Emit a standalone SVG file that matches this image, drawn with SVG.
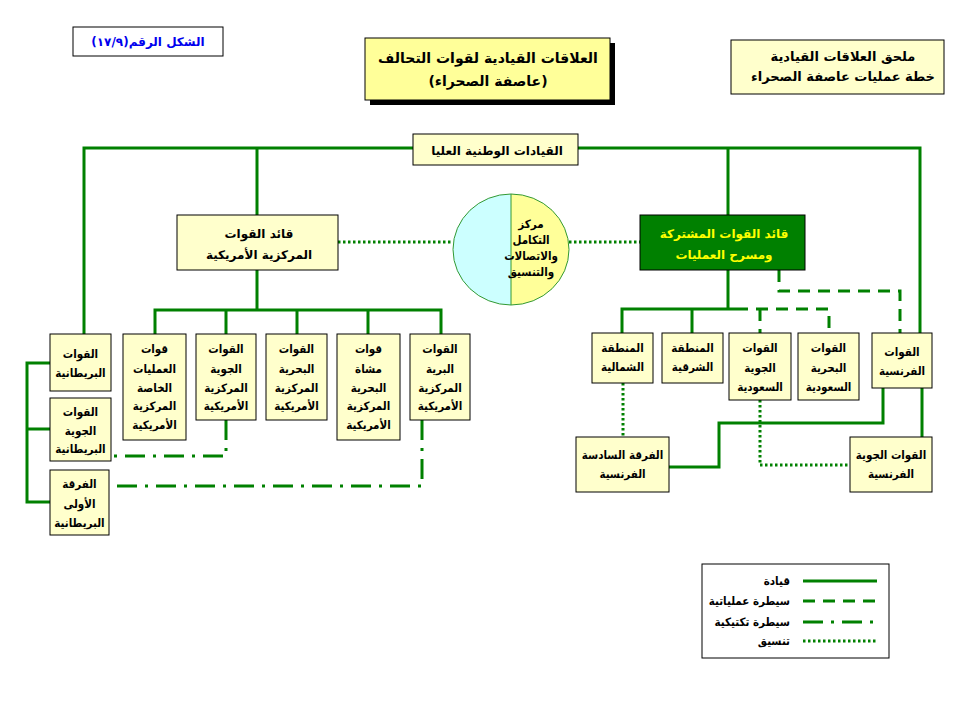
<svg xmlns="http://www.w3.org/2000/svg" width="959" height="719" viewBox="0 0 959 719">
<style>
text{font-family:"DejaVu Sans","Noto Sans",sans-serif;font-weight:bold;font-size:12px;text-anchor:middle;fill:#000}
text.s{font-family:"DejaVu Sans Condensed","DejaVu Sans",sans-serif;font-size:11.5px}
.box{fill:#FFFFCC;stroke:#000;stroke-width:1}
.cmd{fill:none;stroke:#008000;stroke-width:3}
.op{fill:none;stroke:#008000;stroke-width:3;stroke-dasharray:12 8}
.tac{fill:none;stroke:#008000;stroke-width:3;stroke-dasharray:20 8 3 8}
.crd{fill:none;stroke:#008000;stroke-width:3;stroke-dasharray:2.5 2.5}
</style>
<rect width="959" height="719" fill="#fff"/>
<g id="connectors">
<path class="cmd" d="M84,334 V148 H920 V333"/>
<path class="cmd" d="M257,148 V215 M728,148 V215"/>
<path class="cmd" d="M257,270 V310 M155,334 V310 H441 V334 M226,310 V334 M297,310 V334 M368,310 V334"/>
<path class="cmd" d="M50,363 H27 V502 H50 M27,429 H50"/>
<path class="cmd" d="M728,270 V309 M622,333 V309 H736 M692,309 V333"/>
<path class="cmd" d="M883,388 V423 H719 V467 H669 M922,388 V437"/>
<path class="op" d="M736,309 H829 V333 M760,309 V333"/>
<path class="op" d="M779,270 V291 H900 V333"/>
<path class="tac" d="M226,420 V456 H111"/>
<path class="tac" d="M422,420 V486 H110"/>
<path class="crd" d="M338,242 H453 M569,242 H640"/>
<path class="crd" d="M623,383 V437"/>
<path class="crd" d="M760,400 V465 H850"/>
</g>
<g id="fig-number">
<rect x="73" y="27" width="150" height="29" fill="#fff" stroke="#000"/>
<text x="148" y="46" direction="rtl" style="fill:#0000EE;font-size:12px">الشكل الرقم(١٧/٩)</text>
</g>
<g id="title">
<rect x="370" y="43" width="245" height="62" fill="#000"/>
<rect x="365" y="38" width="245" height="62" fill="#FFFF99" stroke="#000"/>
<text x="488" y="63" direction="rtl" style="font-size:14px">العلاقات القيادية لقوات التحالف</text>
<text x="488" y="86" direction="rtl" style="font-size:14px">(عاصفة الصحراء)</text>
</g>
<g id="annex">
<rect x="731" y="40" width="213" height="54" class="box"/>
<text x="843" y="61" direction="rtl" style="font-size:13px">ملحق العلاقات القيادية</text>
<text x="843" y="81" direction="rtl" style="font-size:13px">خطة عمليات عاصفة الصحراء</text>
</g>
<g id="national-command">
<rect x="413" y="134" width="165" height="31" class="box"/>
<text x="497" y="155" direction="rtl">القيادات الوطنية العليا</text>
</g>
<g id="centcom">
<rect x="177" y="215" width="161" height="55" class="box"/>
<text x="259" y="238" direction="rtl">قائد القوات</text>
<text x="259" y="259" direction="rtl">المركزية الأمريكية</text>
</g>
<g id="coordination-center">
<path d="M511,194 A58,55.5 0 0 0 511,305 Z" fill="#CCFFFF"/>
<path d="M511,194 A58,55.5 0 0 1 511,305 Z" fill="#FFFF99"/>
<ellipse cx="511" cy="249.5" rx="58" ry="55.5" fill="none" stroke="#339933" stroke-width="1"/>
<line x1="511" y1="194" x2="511" y2="305" stroke="#339933" stroke-width="1"/>
<text class="s" x="531" y="228" direction="rtl">مركز</text>
<text class="s" x="531" y="244" direction="rtl">التكامل</text>
<text class="s" x="531" y="260" direction="rtl">والاتصالات</text>
<text class="s" x="531" y="276" direction="rtl">والتنسيق</text>
</g>
<g id="joint-commander">
<rect x="640" y="215" width="165" height="55" fill="#008000" stroke="#000"/>
<text x="724" y="238" direction="rtl" style="fill:#FFFF00">قائد القوات المشتركة</text>
<text x="724" y="259" direction="rtl" style="fill:#FFFF00">ومسرح العمليات</text>
</g>
<g id="us-special-ops">
<rect x="123" y="334" width="63" height="106" class="box"/>
<text class="s" x="154.5" y="353" direction="rtl">قوات</text>
<text class="s" x="154.5" y="373" direction="rtl">العمليات</text>
<text class="s" x="154.5" y="392" direction="rtl">الخاصة</text>
<text class="s" x="154.5" y="410" direction="rtl">المركزية</text>
<text class="s" x="154.5" y="429" direction="rtl">الأمريكية</text>
</g>
<g id="us-air">
<rect x="196" y="334" width="60" height="86" class="box"/>
<text class="s" x="226" y="353" direction="rtl">القوات</text>
<text class="s" x="226" y="373" direction="rtl">الجوية</text>
<text class="s" x="226" y="392" direction="rtl">المركزية</text>
<text class="s" x="226" y="410" direction="rtl">الأمريكية</text>
</g>
<g id="us-navy">
<rect x="266" y="334" width="61" height="86" class="box"/>
<text class="s" x="296.5" y="353" direction="rtl">القوات</text>
<text class="s" x="296.5" y="373" direction="rtl">البحرية</text>
<text class="s" x="296.5" y="392" direction="rtl">المركزية</text>
<text class="s" x="296.5" y="410" direction="rtl">الأمريكية</text>
</g>
<g id="us-marines">
<rect x="337" y="334" width="63" height="106" class="box"/>
<text class="s" x="368.5" y="353" direction="rtl">قوات</text>
<text class="s" x="368.5" y="373" direction="rtl">مشاة</text>
<text class="s" x="368.5" y="392" direction="rtl">البحرية</text>
<text class="s" x="368.5" y="410" direction="rtl">المركزية</text>
<text class="s" x="368.5" y="429" direction="rtl">الأمريكية</text>
</g>
<g id="us-army">
<rect x="410" y="334" width="60" height="86" class="box"/>
<text class="s" x="440" y="353" direction="rtl">القوات</text>
<text class="s" x="440" y="373" direction="rtl">البرية</text>
<text class="s" x="440" y="392" direction="rtl">المركزية</text>
<text class="s" x="440" y="410" direction="rtl">الأمريكية</text>
</g>
<g id="uk-forces">
<rect x="50" y="334" width="61" height="57" class="box"/>
<text class="s" x="80.5" y="358" direction="rtl">القوات</text>
<text class="s" x="80.5" y="377" direction="rtl">البريطانية</text>
</g>
<g id="uk-air">
<rect x="50" y="398" width="61" height="63" class="box"/>
<text class="s" x="80.5" y="416" direction="rtl">القوات</text>
<text class="s" x="80.5" y="435" direction="rtl">الجوية</text>
<text class="s" x="80.5" y="453" direction="rtl">البريطانية</text>
</g>
<g id="uk-1st-division">
<rect x="50" y="470" width="59" height="65" class="box"/>
<text class="s" x="79.5" y="488" direction="rtl">الفرقة</text>
<text class="s" x="79.5" y="508" direction="rtl">الأولى</text>
<text class="s" x="79.5" y="527" direction="rtl">البريطانية</text>
</g>
<g id="northern-area">
<rect x="592" y="333" width="61" height="50" class="box"/>
<text class="s" x="622.5" y="352" direction="rtl">المنطقة</text>
<text class="s" x="622.5" y="371" direction="rtl">الشمالية</text>
</g>
<g id="eastern-area">
<rect x="662" y="333" width="61" height="50" class="box"/>
<text class="s" x="692.5" y="352" direction="rtl">المنطقة</text>
<text class="s" x="692.5" y="371" direction="rtl">الشرقية</text>
</g>
<g id="saudi-air">
<rect x="729" y="333" width="62" height="67" class="box"/>
<text class="s" x="760" y="352" direction="rtl">القوات</text>
<text class="s" x="760" y="372" direction="rtl">الجوية</text>
<text class="s" x="760" y="391" direction="rtl">السعودية</text>
</g>
<g id="saudi-navy">
<rect x="798" y="333" width="61" height="67" class="box"/>
<text class="s" x="828.5" y="352" direction="rtl">القوات</text>
<text class="s" x="828.5" y="372" direction="rtl">البحرية</text>
<text class="s" x="828.5" y="391" direction="rtl">السعودية</text>
</g>
<g id="french-forces">
<rect x="872" y="333" width="60" height="55" class="box"/>
<text class="s" x="902" y="356" direction="rtl">القوات</text>
<text class="s" x="902" y="375" direction="rtl">الفرنسية</text>
</g>
<g id="french-6th-division">
<rect x="576" y="437" width="93" height="55" class="box"/>
<text class="s" x="622.5" y="459" direction="rtl">الفرقة السادسة</text>
<text class="s" x="622.5" y="478" direction="rtl">الفرنسية</text>
</g>
<g id="french-air">
<rect x="850" y="437" width="82" height="55" class="box"/>
<text class="s" x="891" y="459" direction="rtl">القوات الجوية</text>
<text class="s" x="891" y="478" direction="rtl">الفرنسية</text>
</g>
<g id="legend">
<rect x="702" y="564" width="187" height="94" fill="#fff" stroke="#000"/>
<path class="cmd" d="M803,581 H877"/>
<path class="op" d="M803,601 H877"/>
<path class="tac" d="M803,622 H877"/>
<path class="crd" d="M803,641 H877"/>
<text class="s" x="790" y="585" direction="rtl" style="text-anchor:start">قيادة</text>
<text class="s" x="790" y="605" direction="rtl" style="text-anchor:start">سيطرة عملياتية</text>
<text class="s" x="790" y="626" direction="rtl" style="text-anchor:start">سيطرة تكتيكية</text>
<text class="s" x="790" y="645" direction="rtl" style="text-anchor:start">تنسيق</text>
</g>
</svg>
